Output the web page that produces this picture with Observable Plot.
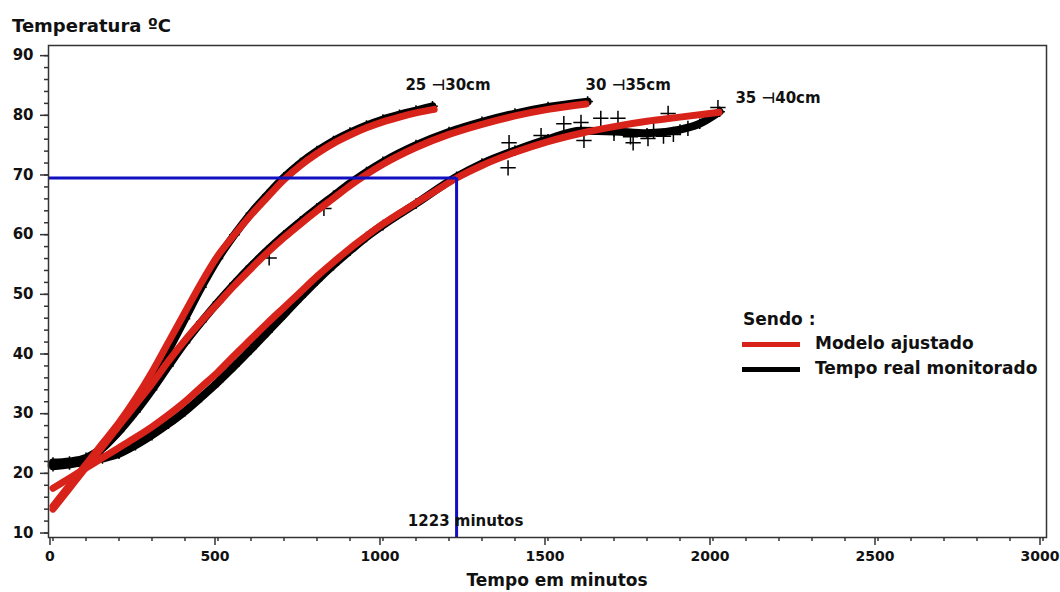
<!DOCTYPE html>
<html>
<head>
<meta charset="utf-8">
<script src="https://cdn.jsdelivr.net/npm/d3@7"></script>
<script src="https://cdn.jsdelivr.net/npm/@observablehq/plot@0.6"></script>
<style>
  html, body { margin: 0; padding: 0; background: #fff; }
  #wrap { position: relative; width: 1060px; height: 592px; overflow: hidden; font-family: "DejaVu Sans", sans-serif; font-weight: bold; color: #111; }
  .abs { position: absolute; white-space: nowrap; }
  .sw { position: absolute; width: 58px; height: 5px; }
</style>
</head>
<body>
<div id="wrap">
  <div class="abs" style="left:12px; top:15px; font-size:18px;">Temperatura ºC</div>
  <div class="abs" style="left:0; width:1114px; text-align:center; top:570px; font-size:17px;">Tempo em minutos</div>
  <div class="abs" style="left:743px; top:309px; font-size:17px;">Sendo :</div>
  <div class="sw" style="left:742px; top:342px; background:#d8231a;"></div>
  <div class="abs" style="left:815px; top:333px; font-size:17px;">Modelo ajustado</div>
  <div class="sw" style="left:742px; top:367px; background:#000;"></div>
  <div class="abs" style="left:815px; top:358px; font-size:17px;">Tempo real monitorado</div>
</div>
<script>
// ---- data ----
const seriesNames = ["25 ⊣30cm", "30 ⊣35cm", "35 ⊣40cm"];

// fitted model (red)
const modelTime1 = [0,50,100,150,200,250,300,350,400,450,500,550,600,650,700,750,800,850,900,950,1000,1050,1100,1155];
const modelTemp1 = [14.5,18,21.5,25,28.5,32.5,37,42,47,52,56.5,60,63.3,66.3,69.2,71.6,73.6,75.3,76.7,77.9,78.9,79.7,80.4,81];
const modelTime2 = [0,50,100,150,200,250,300,350,400,450,500,550,600,650,700,750,800,850,900,950,1000,1100,1200,1300,1400,1500,1615];
const modelTemp2 = [14,17.5,21,24.5,28,31.5,35,38.8,42.3,45.5,48.5,51.5,54.3,57,59.5,61.8,64,66.1,68.2,70.1,71.8,74.6,76.8,78.5,79.9,81,81.9];
const modelTime3 = [0,50,100,150,200,250,300,350,400,450,500,550,600,650,700,750,800,850,900,950,1000,1050,1100,1150,1223,1300,1400,1500,1600,1700,1800,1900,2018];
const modelTemp3 = [17.5,19.2,20.9,22.6,24.3,26,27.8,29.8,32,34.5,37,39.8,42.5,45.2,47.8,50.4,53,55.4,57.7,59.8,61.8,63.6,65.3,67,69.5,71.6,73.8,75.6,77,78.1,79,79.7,80.5];

// monitored data (black)
const obsTime1 = [0,50,100,150,200,250,300,350,400,450,500,550,600,650,700,750,800,850,900,950,1000,1050,1100,1150];
const obsTemp1 = [21.2,21.5,22.3,24.2,27.2,31,35.5,40.6,45.9,51.2,56,60,63.6,66.7,69.6,72,74,75.7,77.1,78.3,79.3,80.1,80.8,81.5];
const obsTime2 = [0,50,100,150,200,250,300,350,400,450,500,550,600,650,700,750,800,850,900,950,1000,1100,1200,1300,1400,1500,1620];
const obsTemp2 = [21.8,22,22.6,24.3,27,30.3,34,38,41.9,45.4,48.7,51.8,54.7,57.4,59.9,62.2,64.4,66.5,68.6,70.5,72.2,75,77.2,78.9,80.3,81.4,82.3];
const obsTime3 = [0,50,100,150,200,250,300,350,400,450,500,550,600,650,700,750,800,850,900,950,1000,1100,1223,1300,1400,1500,1600,1700,1800,1900,1960,2020];
const obsTemp3 = [21.5,21.6,21.9,22.5,23.3,24.7,26.4,28.3,30.4,32.8,35.3,38,40.8,43.7,46.6,49.5,52.3,54.9,57.3,59.6,61.6,65.2,69.7,71.9,74.1,76,77.4,77.3,77,77.6,78.6,80.6];

// scattered monitored readings off the band
const outlierTime = [1382,1379,1479,1548,1600,1660,1712,1758,1803,1924,1864,2015,1609,821,655,1700,1750,1850,1820,1880];
const outlierTemp = [75.4,71.2,76.6,78.6,78.8,79.5,79.5,75.4,76.1,77.8,80.3,81.3,75.8,64.4,56.1,77,76.4,76.5,77.5,76.8];

// series labels placed in data space
const labelTime = [1068, 1614, 2068];
const labelTemp = [85, 85, 82.8];

// reference reading
const refTime = 1223;
const refTemp = 69.5;

// axis ticks
const xMajor = [0,500,1000,1500,2000,2500,3000];
const xMinor = d3.range(0, 3001, 100);
const yMajor = [10,20,30,40,50,60,70,80,90];
const yMinor = d3.range(10, 91, 2);
const xDomain = [-13.6, 3010.6];
const yDomain = [9.25, 91.7];

// ---- build tables ----
const zip = (ts, vs, s) => ts.map((t, i) => ({t, v: vs[i], s}));
const model = [
  ...zip(modelTime1, modelTemp1, seriesNames[0]),
  ...zip(modelTime2, modelTemp2, seriesNames[1]),
  ...zip(modelTime3, modelTemp3, seriesNames[2])
];
const obs = [
  ...zip(obsTime1, obsTemp1, seriesNames[0]),
  ...zip(obsTime2, obsTemp2, seriesNames[1]),
  ...zip(obsTime3, obsTemp3, seriesNames[2])
];
const outliers = zip(outlierTime, outlierTemp, "out");
const labels = seriesNames.map((s, i) => ({s, t: labelTime[i], v: labelTemp[i]}));

const chart = Plot.plot({
  width: 1060,
  height: 592,
  marginLeft: 48,
  marginRight: 14,
  marginTop: 45,
  marginBottom: 55,
  x: {domain: xDomain},
  y: {domain: yDomain},
  style: {fontFamily: "DejaVu Sans, sans-serif", fontWeight: "bold", fontSize: "15px", color: "#111", background: "transparent"},
  marks: [
    Plot.axisX(xMinor, {tickSize: 4, tickFormat: () => "", label: null, stroke: "#333", strokeWidth: 1.5}),
    Plot.axisX(xMajor, {tickSize: 8, tickPadding: 6, tickFormat: d => String(d), dx: -3, label: null, stroke: "#333", strokeWidth: 1.5, fill: "#111", fontSize: 14}),
    Plot.axisY(yMinor, {tickSize: 4, tickFormat: () => "", label: null, stroke: "#333", strokeWidth: 1.5}),
    Plot.axisY(yMajor, {tickSize: 8, tickPadding: 7, tickFormat: d => String(d), label: null, stroke: "#333", strokeWidth: 1.5, fill: "#111", fontSize: 15}),
    Plot.line(obs, {x: "t", y: "v", z: "s", stroke: "#000", strokeWidth: 8, curve: "monotone-x"}),
    Plot.dot(obs, {x: "t", y: "v", symbol: "plus", r: 3.5, stroke: "#000", strokeWidth: 1.5}),
    Plot.dot(outliers, {x: "t", y: "v", symbol: "plus", r: 5, stroke: "#000", strokeWidth: 1.5}),
    Plot.line(model, {x: "t", y: "v", z: "s", stroke: "#d8231a", strokeWidth: 7, curve: "monotone-x"}),
    Plot.ruleY([refTemp], {x1: xDomain[0], x2: refTime, stroke: "#1010c0", strokeWidth: 3}),
    Plot.ruleX([refTime], {y1: yDomain[0], y2: refTemp, stroke: "#1010c0", strokeWidth: 3}),
    Plot.text([refTime], {x: d => d, frameAnchor: "bottom", dy: -12, dx: 9, text: d => `${d} minutos`, fontSize: 15, fill: "#111"}),
    Plot.text(labels, {x: "t", y: "v", text: "s", textAnchor: "start", fontSize: 15, fill: "#111"}),
    Plot.frame({stroke: "#333", strokeWidth: 1.5})
  ]
});
chart.style.position = "absolute";
chart.style.left = "0";
chart.style.top = "0";
document.getElementById("wrap").prepend(chart);
</script>
</body>
</html>
